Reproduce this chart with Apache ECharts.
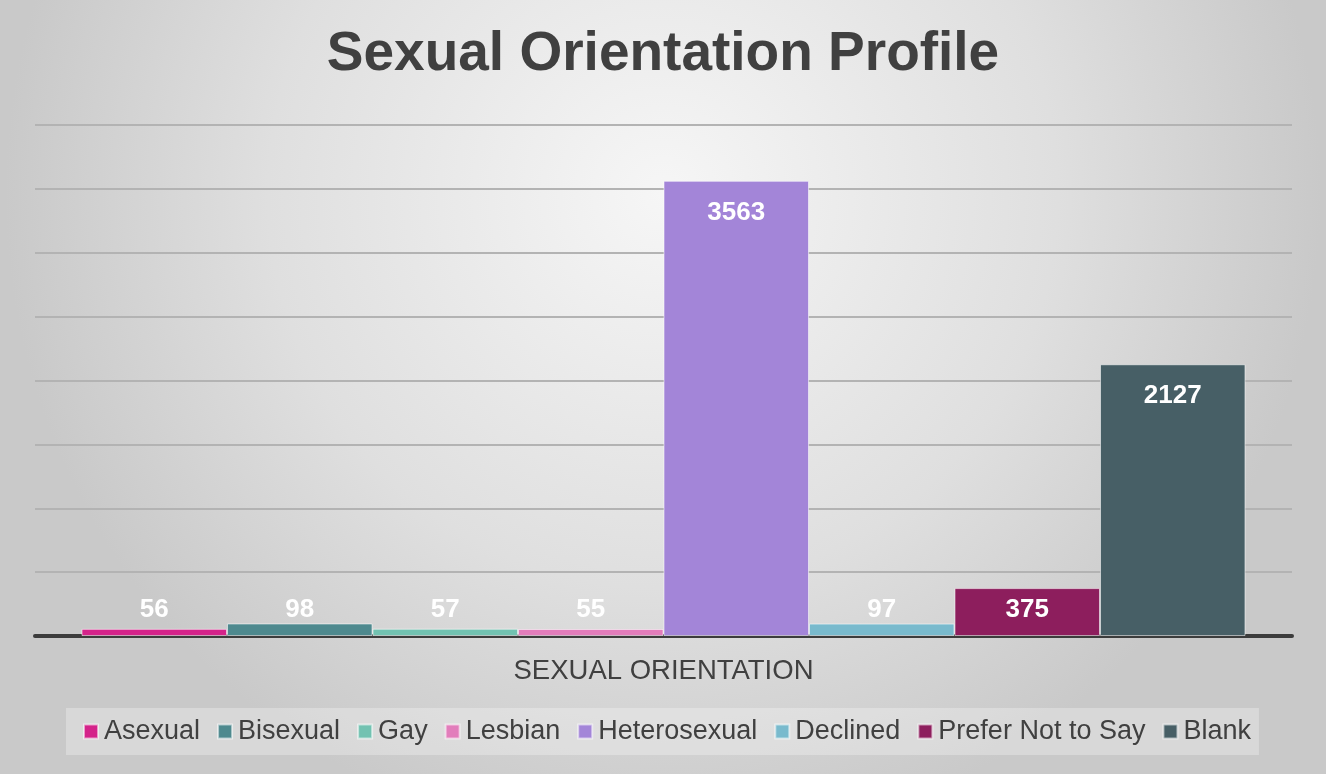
<!DOCTYPE html>
<html>
<head>
<meta charset="utf-8">
<script src="https://cdn.jsdelivr.net/npm/echarts@6/dist/echarts.min.js"></script>
<style>
html,body{margin:0;padding:0;}
#chart{width:1326px;height:774px;}
</style>
</head>
<body>
<div id="chart"></div>
<script>
const categories = ['SEXUAL ORIENTATION'];
const seriesNames = ['Asexual', 'Bisexual', 'Gay', 'Lesbian', 'Heterosexual', 'Declined', 'Prefer Not to Say', 'Blank'];
const seriesValues = [56, 98, 57, 55, 3563, 97, 375, 2127];
const seriesColors = ['#d4238a', '#4e898e', '#72c2b1', '#e27dbb', '#a385d8', '#79bacd', '#8d1e5d', '#475f66'];

const chart = echarts.init(document.getElementById('chart'));
const FONT = '"Liberation Sans", Arial, sans-serif';

const series = seriesNames.map((name, i) => {
  const v = seriesValues[i];
  const small = v < 450;
  return {
    name: name,
    type: 'bar',
    barGap: '0%',
    barCategoryGap: '7.4%',
    itemStyle: { color: seriesColors[i], borderColor: 'rgba(255,255,255,0.55)', borderWidth: 1 },
    label: {
      show: true,
      position: small ? 'insideBottom' : 'insideTop',
      distance: small ? 13 : 19,
      color: '#ffffff',
      fontWeight: 'bold',
      fontSize: 26,
      fontFamily: FONT
    },
    data: [v]
  };
});

chart.setOption({
  animation: false,
  backgroundColor: {
    type: 'radial', x: 0.5, y: 0.25, r: 0.85,
    colorStops: [
      { offset: 0, color: '#f6f6f6' },
      { offset: 0.6, color: '#dfdfdf' },
      { offset: 1, color: '#c9c9c9' }
    ]
  },
  title: {
    text: 'Sexual Orientation Profile',
    left: 'center',
    top: 22,
    textStyle: { fontSize: 55, fontWeight: 'bold', color: '#404040', fontFamily: FONT }
  },
  grid: { left: 35, right: 34, top: 125, bottom: 138 },
  legend: {
    bottom: 19,
    left: 66,
    itemWidth: 14,
    itemHeight: 14,
    itemGap: 17,
    icon: 'rect',
    padding: [10, 8, 10, 17],
    backgroundColor: 'rgba(255,255,255,0.28)',
    textStyle: { fontSize: 27, color: '#404040', fontFamily: FONT, padding: [0, 0, 0, 1] },
    data: seriesNames
  },
  xAxis: {
    type: 'category',
    data: categories,
    axisLine: { show: true, lineStyle: { color: '#3c3c3c', width: 4 } },
    axisTick: { show: false },
    axisLabel: { fontSize: 27.5, color: '#404040', fontFamily: FONT, margin: 21 }
  },
  yAxis: {
    type: 'value',
    min: 0,
    max: 4000,
    interval: 500,
    axisLabel: { show: false },
    axisLine: { show: false },
    axisTick: { show: false },
    splitLine: { show: true, lineStyle: { color: '#b3b3b3', width: 2 } }
  },
  series: series
});
</script>
</body>
</html>
